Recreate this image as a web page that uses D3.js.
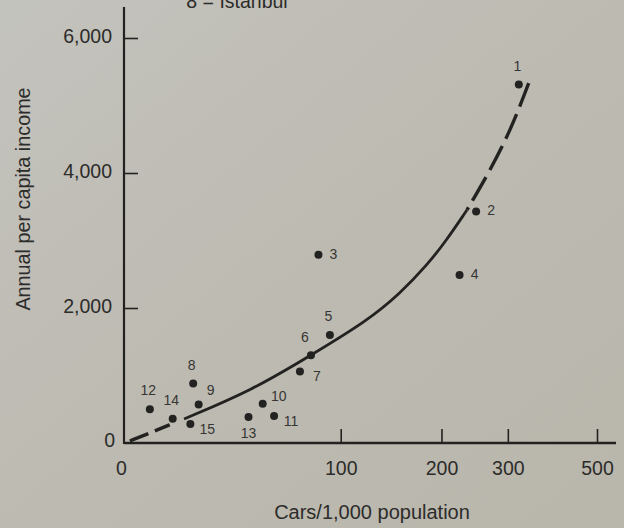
<!DOCTYPE html>
<html>
<head>
<meta charset="utf-8">
<script src="https://cdn.jsdelivr.net/npm/d3@7"></script>
<style>
  html, body { margin: 0; padding: 0; }
  body { width: 624px; height: 528px; overflow: hidden; background: #bcbab1; }
  svg text { font-family: "Liberation Sans", Arial, Helvetica, sans-serif; fill: #2c2c2a; }
</style>
</head>
<body>
<svg id="chart" width="624" height="528"></svg>
<script>
// city numbers with cars per 1,000 people and annual income
var cityIds = [1, 2, 3, 4, 5, 6, 7, 8, 9, 10, 11, 12, 13, 14, 15];
var cars    = [320, 248, 84, 224, 92, 79, 72, 21, 23, 51, 57, 7, 44, 14, 20];
var income  = [5310, 3430, 2790, 2490, 1600, 1300, 1060, 880, 570, 580, 400, 500, 385, 360, 280];

// where each number sits next to its dot
var labelSide = ["above", "right", "right", "right", "above", "aboveLeft", "lowerRight",
                 "above", "aboveRight", "upperRight", "lowerRight", "above", "below", "above", "lowerRight"];

// fitted curve
var fitCars   = [1.5, 6.8, 13.4, 17.8, 46.5, 78.9, 121.4, 152.9, 182.3, 204.9, 234.5, 264, 292, 315, 339];
var fitIncome = [30, 144, 277, 356, 793, 1300, 1807, 2218, 2637, 2978, 3452, 3945, 4415, 4844, 5330];
var solidFrom = 17.8, solidTo = 234.5;   // solid part of the curve, dashed outside

var xTicks = [0, 100, 200, 300, 500];
var yTicks = [0, 2000, 4000, 6000];
var xTitle = "Cars/1,000 population";
var yTitle = "Annual per capita income";
var keyNote = "8 = Istanbul";

var svg = d3.select("#chart");

// paper background
var grad = svg.append("defs").append("linearGradient").attr("id", "paper")
  .attr("x1", "0").attr("y1", "0").attr("x2", "1").attr("y2", "1");
grad.append("stop").attr("offset", "0").attr("stop-color", "#c3c3bd");
grad.append("stop").attr("offset", "0.5").attr("stop-color", "#bdbab1");
grad.append("stop").attr("offset", "1").attr("stop-color", "#b9b6ac");
svg.append("rect").attr("width", 624).attr("height", 528).attr("fill", "url(#paper)");

// x axis is stretched like log(1 + x/50)
var x = d3.scaleSymlog().constant(50).domain([0, 500]).range([124, 597]);
var y = d3.scaleLinear().domain([0, 6000]).range([443, 38]);

var ink = "#222220";

// axis lines
svg.append("line")
  .attr("x1", x(0)).attr("x2", x.range()[1] + 19)
  .attr("y1", y(0)).attr("y2", y(0))
  .attr("stroke", ink).attr("stroke-width", 2.4);
svg.append("line")
  .attr("x1", x(0)).attr("x2", x(0))
  .attr("y1", y(0) + 1).attr("y2", y.range()[1] - 31)
  .attr("stroke", ink).attr("stroke-width", 2.2);

var xAxis = d3.axisBottom(x).tickValues(xTicks).tickSize(-14).tickPadding(18)
  .tickFormat(d3.format("d"));
var gx = svg.append("g").attr("transform", "translate(0," + y(0) + ")").call(xAxis);
gx.select(".domain").remove();
gx.selectAll(".tick line").attr("stroke", ink).attr("stroke-width", 1.6)
  .filter(function(d) { return d === 0; }).remove();
gx.selectAll(".tick text").attr("font-size", 19.5).attr("fill", "#2c2c2a")
  .attr("dx", function(d) { return d === 0 ? -3 : 0; });

var yAxis = d3.axisLeft(y).tickValues(yTicks).tickSize(-14).tickPadding(12)
  .tickFormat(d3.format(","));
var gy = svg.append("g").attr("transform", "translate(" + x(0) + ",0)").call(yAxis);
gy.select(".domain").remove();
gy.selectAll(".tick line").attr("stroke", ink).attr("stroke-width", 1.6)
  .filter(function(d) { return d === 0; }).remove();
gy.selectAll(".tick text").attr("font-size", 19.5).attr("fill", "#2c2c2a")
  .attr("dy", function(d) { return d === 0 ? "0.2em" : "0.25em"; })
  .attr("dx", function(d) { return d === 0 ? 3 : 0; });

// axis titles
svg.append("text")
  .attr("x", 372).attr("y", 519)
  .attr("text-anchor", "middle").attr("font-size", 20)
  .text(xTitle);
svg.append("text")
  .attr("transform", "translate(30,199) rotate(-90)")
  .attr("text-anchor", "middle").attr("font-size", 19.8)
  .text(yTitle);

// last line of the key, cut off at the top as in the original
svg.append("text")
  .attr("x", 237).attr("y", 8)
  .attr("text-anchor", "middle").attr("font-size", 19.5)
  .text(keyNote);

// fitted curve
var fit = fitCars.map(function(c, i) { return { cars: c, income: fitIncome[i] }; });
var line = d3.line()
  .x(function(d) { return x(d.cars); })
  .y(function(d) { return y(d.income); })
  .curve(d3.curveBasis);

svg.append("path")
  .datum(fit.filter(function(d) { return d.cars <= solidFrom; }))
  .attr("d", line).attr("fill", "none").attr("stroke", ink)
  .attr("stroke-width", 3.4).attr("stroke-dasharray", "20,7,16,20");
svg.append("path")
  .datum(fit.filter(function(d) { return d.cars >= solidFrom && d.cars <= solidTo; }))
  .attr("d", line).attr("fill", "none").attr("stroke", ink)
  .attr("stroke-width", 2.8);
svg.append("path")
  .datum(fit.filter(function(d) { return d.cars >= solidTo; }))
  .attr("d", line).attr("fill", "none").attr("stroke", ink)
  .attr("stroke-width", 3.4).attr("stroke-dasharray", "27,8").attr("stroke-dashoffset", 24);

// cities
var sides = {
  above: [-1.5, -19], aboveLeft: [-6, -18], aboveRight: [12, -15], upperRight: [16, -8],
  right: [15, -1], lowerRight: [17, 5], below: [0, 16]
};
var pts = cityIds.map(function(id, i) {
  return { id: id, cars: cars[i], income: income[i], side: labelSide[i] };
});

svg.append("g").selectAll("circle").data(pts).join("circle")
  .attr("cx", function(d) { return x(d.cars); })
  .attr("cy", function(d) { return y(d.income); })
  .attr("r", 4)
  .attr("fill", ink);

svg.append("g").selectAll("text").data(pts).join("text")
  .attr("x", function(d) { return x(d.cars) + sides[d.side][0]; })
  .attr("y", function(d) { return y(d.income) + sides[d.side][1]; })
  .attr("text-anchor", "middle").attr("dominant-baseline", "central")
  .attr("font-size", 14).style("fill", "#363634")
  .text(function(d) { return d.id; });
</script>
</body>
</html>
